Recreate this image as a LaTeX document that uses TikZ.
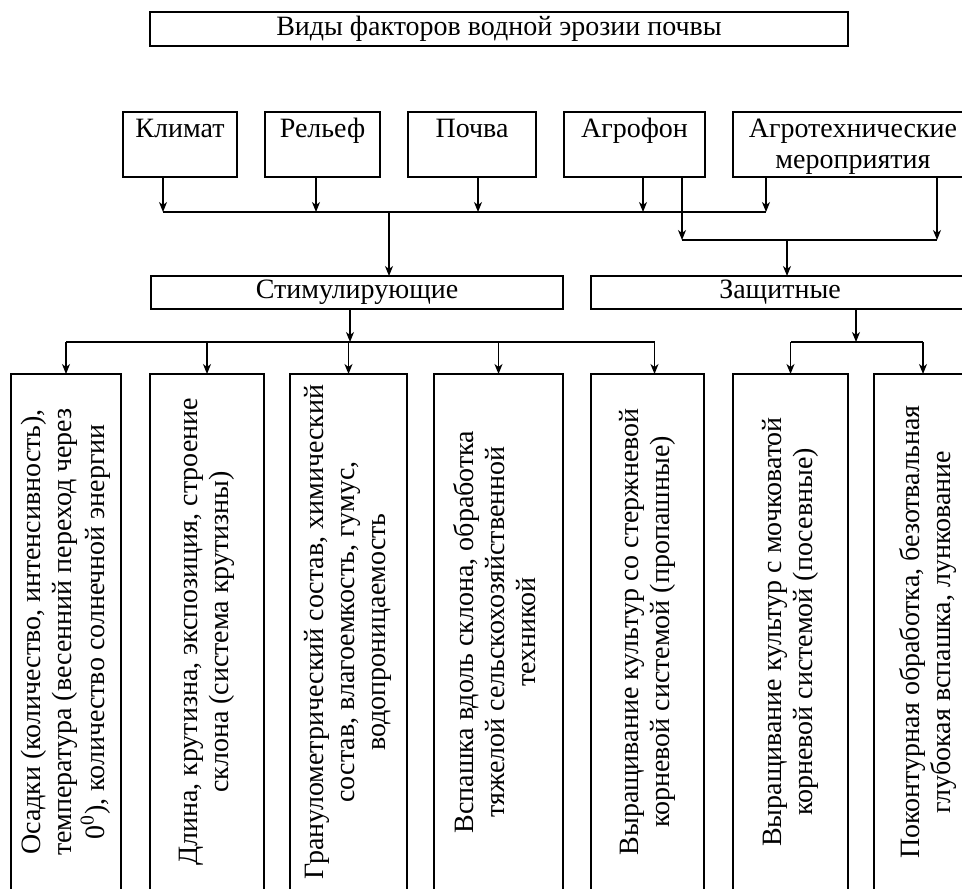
\documentclass[tikz,border=0pt]{standalone}
\usepackage{fontspec}
\setmainfont{Liberation Serif}
\usepackage{graphicx}
\usetikzlibrary{arrows.meta, calc, positioning}
\tikzset{> = { Stealth[length = 5pt, width = 4pt, inset = 1.5pt] }}
\newcommand{\vtext}[1]{\rotatebox{90}{\begin{tabular}{@{}c@{}}#1\end{tabular}}}

\begin{document}
\begin{tikzpicture}[x = 0.5pt, y = -0.5pt, line width = 0.6pt,
		box/.style = { draw, inner sep = 2pt, outer sep = 0pt, font = \fontsize{14}{15.5}\selectfont },
		topbox/.style = { box, align = center, minimum height = 32.5pt, text height = 9.5pt, text depth = 17pt, inner ysep = 3pt },
		midbox/.style = { box, minimum height = 16.5pt },
		factor/.style = { box, minimum height = 258pt }]
		\useasboundingbox (0,0) rectangle (962,888);
		\clip (0,0) rectangle (962,888);

		\node [box, minimum width = 349pt, minimum height = 17pt] (title) at (499,29) {Виды факторов водной эрозии почвы};

		\node [topbox, minimum width = 57pt] (klimat) at (180,144.5) {Климат};
		\node [topbox, minimum width = 57.5pt, right = 14pt of klimat] (relief) {Рельеф};
		\node [topbox, minimum width = 64pt, right = 14pt of relief] (pochva) {Почва};
		\node [topbox, minimum width = 70.5pt, right = 14pt of pochva] (agrofon) {Агрофон};
		\node [topbox, minimum width = 120pt, right = 14pt of agrofon, text height = 25pt, text depth = 1.5pt] (agrotech) {Агротехнические\\мероприятия};

		\node [midbox, minimum width = 206pt] (stim) at (357,292.5) {Стимулирующие};
		\node [midbox, minimum width = 189pt, right = 14pt of stim] (prot) {Защитные};

		\node [factor, minimum width = 55pt] (f1) at (66,632) {\vtext{Осадки (количество, интенсивность),\\температура (весенний переход через\\0\textsuperscript{0}), количество солнечной энергии}};
		\node [factor, minimum width = 57pt, right = 14.5pt of f1] (f2) {\vtext{Длина, крутизна, экспозиция, строение\\склона (система крутизны)}};
		\node [factor, minimum width = 58.5pt, right = 13pt of f2, line width = 1.1pt] (f3) {\vtext{Гранулометрический состав, химический\\состав, влагоемкость, гумус,\\водопроницаемость}};
		\node [factor, minimum width = 64.5pt, right = 13.5pt of f3] (f4) {\vtext{Вспашка вдоль склона, обработка\\тяжелой сельскохозяйственной\\техникой}};
		\node [factor, minimum width = 56.5pt, right = 14pt of f4] (f5) {\vtext{Выращивание культур со стержневой\\корневой системой (пропашные)}};
		\node [factor, minimum width = 57.5pt, right = 14.5pt of f5] (f6) {\vtext{Выращивание культур с мочковатой\\корневой системой (посевные)}};
		\node [factor, minimum width = 55pt, right = 13pt of f6] (f7) {\vtext{Поконтурная обработка, безотвальная\\глубокая вспашка, лункование}};

		% buses
		\coordinate (topbus) at (0,212);
		\coordinate (protbus) at (0,240);
		\coordinate (lowbus) at (0,342);
		\coordinate (stimin) at (389,212);
		\coordinate (protin) at (787,240);

		\draw [->] ([xshift = -8.5pt]klimat.south) -- ([xshift = -8.5pt]klimat.south |- topbus);
		\draw [->] ([xshift = -3.25pt]relief.south) -- ([xshift = -3.25pt]relief.south |- topbus);
		\draw [->] ([xshift = 3pt]pochva.south) -- ([xshift = 3pt]pochva.south |- topbus);
		\draw [->] ([xshift = 4.25pt]agrofon.south) -- ([xshift = 4.25pt]agrofon.south |- topbus);
		\draw [->] ([xshift = -43.5pt]agrotech.south) -- ([xshift = -43.5pt]agrotech.south |- topbus);
		\draw ([xshift = -8.5pt]klimat.south |- topbus) -- ([xshift = -43.5pt]agrotech.south |- topbus);
		\draw [->] (stimin) -- (stimin |- stim.north);

		\draw [->] ([xshift = 23.75pt]agrofon.south) -- ([xshift = 23.75pt]agrofon.south |- protbus);
		\draw [->] ([xshift = 42pt]agrotech.south) -- ([xshift = 42pt]agrotech.south |- protbus);
		\draw ([xshift = 23.75pt]agrofon.south |- protbus) -- ([xshift = 42pt]agrotech.south |- protbus);
		\draw [->] (protin) -- (protin |- prot.north);

		\draw [->] ([xshift = -3.5pt]stim.south) -- ([xshift = -3.5pt]stim.south |- lowbus);
		\draw (f1.north |- lowbus) -- ([xshift = 3.5pt]f5.north |- lowbus);
		\draw [->] (f1.north |- lowbus) -- (f1.north);
		\draw [->] (f2.north |- lowbus) -- (f2.north);
		\draw [->] (f3.north |- lowbus) -- (f3.north);
		\draw [->] (f4.north |- lowbus) -- (f4.north);
		\draw [->] ([xshift = 3.5pt]f5.north |- lowbus) -- ([xshift = 3.5pt]f5.north);

		\draw [->] ([xshift = 38pt]prot.south) -- ([xshift = 38pt]prot.south |- lowbus);
		\draw (f6.north |- lowbus) -- ([xshift = -3pt]f7.north |- lowbus);
		\draw [->] (f6.north |- lowbus) -- (f6.north);
		\draw [->] ([xshift = -3pt]f7.north |- lowbus) -- ([xshift = -3pt]f7.north);
	\end{tikzpicture}
\end{document}
